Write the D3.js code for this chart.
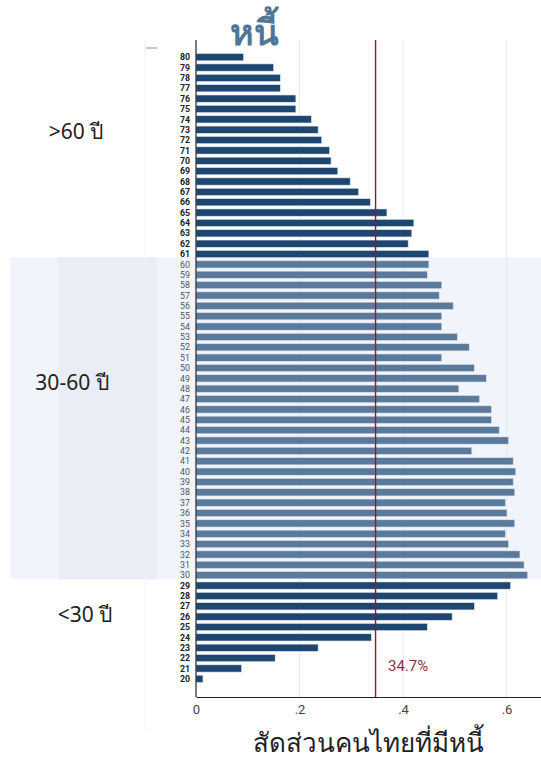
<!DOCTYPE html>
<html>
<head>
<meta charset="utf-8">
<script src="https://cdn.jsdelivr.net/npm/d3@7"></script>
<style>
  body { margin: 0; background: #fff; }
  svg { display: block; }
</style>
</head>
<body>
<div id="chart"></div>
<script>
// ages from top (80) to bottom (20)
const ages = d3.range(80, 19, -1);
const shares = [
    0.092, 0.150, 0.163, 0.163, 0.193, 0.193, 0.223, 0.236, 0.243, 0.258,
    0.261, 0.274, 0.298, 0.314, 0.337, 0.369, 0.421, 0.417, 0.410, 0.450,
    0.450, 0.447, 0.475, 0.470, 0.497, 0.475, 0.475, 0.505, 0.528, 0.475,
    0.538, 0.561, 0.508, 0.548, 0.571, 0.571, 0.586, 0.604, 0.533, 0.613,
    0.618, 0.613, 0.616, 0.598, 0.601, 0.616, 0.598, 0.604, 0.626, 0.634,
    0.641, 0.608, 0.583, 0.538, 0.495, 0.447, 0.339, 0.236, 0.153, 0.088,
    0.0135
];
const xTicks = [0, 0.2, 0.4, 0.6];
const average = 0.347;
const groupLabels = [">60 ปี", "30-60 ปี", "<30 ปี"];

const data = ages.map((a, i) => ({ age: a, value: shares[i] }));
const inMiddle = a => a <= 60 && a >= 30;

const W = 541, H = 761;
const plot = { left: 196, right: 541, top: 40, bottom: 697 };

const svg = d3.select("#chart").append("svg")
    .attr("width", W)
    .attr("height", H);

const x = d3.scaleLinear()
    .domain([0, 0.6667])
    .range([plot.left, plot.right]);

const y = d3.scaleBand()
    .domain(ages)
    .range([52, 684])
    .paddingInner(0.3)
    .paddingOuter(0.15);

const mid = a => y(a) + y.bandwidth() / 2;
const step = y.step();

// middle-age shaded band
const bandTop = mid(60) - step / 2 - 2;
const bandH = mid(30) - mid(60) + step + 1;
svg.append("rect")
    .attr("x", 10).attr("width", W - 10)
    .attr("y", bandTop).attr("height", bandH)
    .attr("fill", "#f1f4fa");
svg.append("rect")
    .attr("x", 58).attr("width", 99)
    .attr("y", bandTop).attr("height", bandH)
    .attr("fill", "#e8edf6");

// faint separator line and small legend dash
svg.append("line")
    .attr("x1", 145).attr("x2", 145)
    .attr("y1", 40).attr("y2", 730)
    .attr("stroke", "#f0f2f4");
svg.append("rect")
    .attr("x", 146).attr("y", 47).attr("width", 11).attr("height", 2)
    .attr("fill", "#c8c8c8");

// gridlines
svg.append("g")
    .selectAll("line")
    .data(xTicks.slice(1))
    .join("line")
    .attr("x1", d => x(d)).attr("x2", d => x(d))
    .attr("y1", plot.top).attr("y2", plot.bottom)
    .attr("stroke", "#e3ebee")
    .attr("stroke-width", 1);

// bars
svg.append("g")
    .selectAll("rect")
    .data(data)
    .join("rect")
    .attr("x", x(0))
    .attr("y", d => y(d.age))
    .attr("width", d => x(d.value) - x(0))
    .attr("height", y.bandwidth())
    .attr("fill", d => inMiddle(d.age) ? "#5a7a9b" : "#1d4670")
    .attr("stroke", "#dfe6ee")
    .attr("stroke-width", 0.6);

// age labels
svg.append("g")
    .selectAll("text")
    .data(data)
    .join("text")
    .attr("x", 190)
    .attr("y", d => mid(d.age))
    .attr("dy", "0.36em")
    .attr("text-anchor", "end")
    .attr("font-family", "Roboto, 'DejaVu Sans', sans-serif")
    .attr("font-size", 8.8)
    .attr("font-weight", d => inMiddle(d.age) ? "normal" : "bold")
    .attr("fill", d => inMiddle(d.age) ? "#555" : "#222")
    .text(d => d.age);

// average line
svg.append("line")
    .attr("x1", x(average)).attr("x2", x(average))
    .attr("y1", plot.top).attr("y2", plot.bottom)
    .attr("stroke", "#a3102f")
    .attr("stroke-width", 1.4);

svg.append("text")
    .attr("x", 388)
    .attr("y", 666)
    .attr("dy", "0.35em")
    .attr("font-family", "Roboto, sans-serif")
    .attr("font-size", 15)
    .attr("fill", "#8a3044")
    .text((average * 100).toFixed(1) + "%");

// axes
svg.append("line")
    .attr("x1", plot.left).attr("x2", plot.left)
    .attr("y1", plot.top).attr("y2", plot.bottom)
    .attr("stroke", "#222").attr("stroke-width", 1.2);

const xAxis = svg.append("g")
    .attr("transform", `translate(0,${plot.bottom})`)
    .call(d3.axisBottom(x)
        .tickValues(xTicks)
        .tickSize(0)
        .tickPadding(8)
        .tickFormat(d => d === 0 ? "0" : d3.format(".1f")(d).replace(/^0/, "")));
xAxis.select(".domain").attr("stroke", "#222").attr("stroke-width", 1.2);
xAxis.selectAll("text")
    .attr("font-family", "Roboto, sans-serif")
    .attr("font-size", 13)
    .attr("fill", "#444");

// title and axis title
svg.append("text")
    .attr("x", 254).attr("y", 45)
    .attr("text-anchor", "middle")
    .attr("font-family", "'Noto Sans', 'Open Sans', sans-serif")
    .attr("font-size", 36)
    .attr("font-weight", 600)
    .attr("fill", "#4f7697")
    .text("หนี้");

svg.append("text")
    .attr("x", 368).attr("y", 752)
    .attr("text-anchor", "middle")
    .attr("font-family", "'Noto Sans', 'Open Sans', sans-serif")
    .attr("font-size", 26)
    .attr("fill", "#222")
    .text("สัดส่วนคนไทยที่มีหนี้");

// group labels
const groupPos = [[76, 132], [72, 383], [85, 615]];
svg.append("g")
    .selectAll("text")
    .data(groupLabels)
    .join("text")
    .attr("x", (d, i) => groupPos[i][0])
    .attr("y", (d, i) => groupPos[i][1])
    .attr("dy", "0.35em")
    .attr("text-anchor", "middle")
    .attr("font-family", "'Noto Sans', Roboto, sans-serif")
    .attr("font-size", 21)
    .attr("fill", "#222")
    .text(d => d);
</script>
</body>
</html>
